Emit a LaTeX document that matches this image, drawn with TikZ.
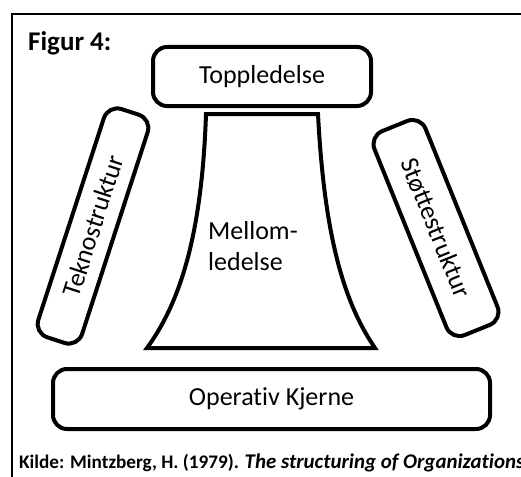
\documentclass[tikz,border=0pt]{standalone}
\usepackage{fontspec}
\setmainfont{Carlito}[Ligatures={NoCommon}]

\begin{document}
\begin{tikzpicture}[x=1pt,y=-1pt,
    part/.style={draw,rounded corners=14pt,line width=4pt,inner sep=0pt,
      font=\fontsize{26}{31}\selectfont},
    plaintext/.style={inner sep=0pt,anchor=base west}]
      \useasboundingbox (0,0) rectangle (521,476);
      \draw[line width=2pt] (12,480) -- (12,14) -- (530,14);
      \node[plaintext,font=\fontsize{27}{32}\selectfont\bfseries] (title) at (28,51) {Figur 4:};
      \node[part,minimum width=218pt,minimum height=59pt] (top) at (262,76.5) {Toppledelse};
      \node[part,minimum width=437pt,minimum height=60pt] (core) at (271.5,399) {Operativ Kjerne};
      \node[part,rotate=72,minimum width=240pt,minimum height=46pt] (tekno) at (93,226) {Teknostruktur};
      \node[part,rotate=-68,minimum width=220pt,minimum height=55pt] (stotte) at (436,228) {Støttestruktur};
      % mellomledelse
      \draw[line width=4pt] (262,114) -- (318,114) .. controls (324,230) and (342,300) .. (375,348)
        -- (147,348) .. controls (182,300) and (202,230) .. (206,114) -- cycle;
      \node[plaintext,anchor=north west,align=left,font=\fontsize{26}{31}\selectfont] (mid) at (208,221) {Mellom-\\ledelse};
      \node[plaintext,font=\fontsize{19.2}{23}\selectfont\bfseries] (source) at (19,468)
        {Kilde: Mintzberg, H. (1979). {\fontsize{20.9}{23}\selectfont\itshape The structuring of Organizations}};
\end{tikzpicture}
\end{document}
